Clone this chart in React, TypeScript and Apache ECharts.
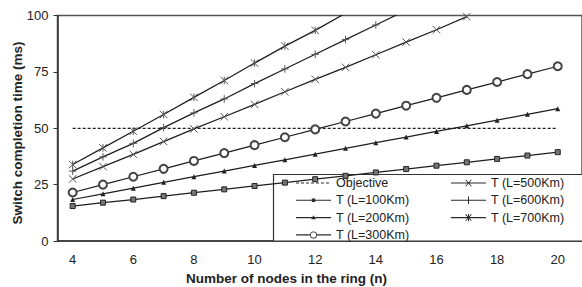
import React, { useEffect, useRef } from "react";
import * as echarts from "echarts";

const nodes = [4, 5, 6, 7, 8, 9, 10, 11, 12, 13, 14, 15, 16, 17, 18, 19, 20];
const objective = [50, 50, 50, 50, 50, 50, 50, 50, 50, 50, 50, 50, 50, 50, 50, 50, 50];
const t100 = [15.5, 17.0, 18.4, 19.9, 21.4, 22.9, 24.4, 25.9, 27.4, 28.9, 30.4, 31.9, 33.4, 34.9, 36.4, 37.9, 39.4];
const t200 = [18.4, 20.9, 23.4, 26.0, 28.5, 31.0, 33.5, 36.0, 38.5, 41.1, 43.6, 46.1, 48.6, 51.1, 53.6, 56.2, 58.7];
const t300 = [21.5, 25.0, 28.5, 32.0, 35.5, 39.0, 42.5, 46.0, 49.5, 53.0, 56.5, 60.0, 63.5, 67.0, 70.5, 74.0, 77.5];
const t500 = [27.5, 33.0, 38.4, 44.1, 49.7, 55.1, 60.6, 66.2, 71.7, 77.0, 82.6, 88.2, 93.7, 99.5, null, null, null];
const t600 = [31.0, 37.3, 43.3, 50.3, 56.8, 63.0, 69.8, 76.3, 82.8, 89.3, 95.8, 102.3, null, null, null, null, null];
const t700 = [33.9, 41.3, 48.7, 56.1, 63.7, 71.2, 78.9, 86.4, 93.4, 101.0, null, null, null, null, null, null, null];
const xTicks = [4, 6, 8, 10, 12, 14, 16, 18, 20];
const legendCol1 = ["Objective", "T (L=100Km)", "T (L=200Km)", "T (L=300Km)"];
const legendCol2 = ["T (L=500Km)", "T (L=600Km)", "T (L=700Km)"];

const pair = (ys: (number | null)[]) => nodes.map((n, i) => [n, ys[i]]);

const LINE = "#1e1e1e";
const FONT = "Liberation Sans, Arial, sans-serif";

// legend icon pieces (35 x 10 box)
const ANCHOR = "M0,0L0.01,0L0,0.01Z M35,10L34.99,10L35,9.99Z ";
const FULL_LINE = "M0,4.45H35V5.55H0Z ";
const ICONS: Record<string, string> = {
  Objective:
    "M0,4.45h3v1.1h-3Z M5,4.45h3v1.1h-3Z M10,4.45h3v1.1h-3Z M15,4.45h3v1.1h-3Z M20,4.45h3v1.1h-3Z M25,4.45h3v1.1h-3Z M30,4.45h3v1.1h-3Z ",
  "T (L=100Km)": FULL_LINE + "M15.8,3.3H19.2V6.7H15.8Z ",
  "T (L=200Km)": FULL_LINE + "M17.5,2.6L19.8,6.6H15.2Z ",
  "T (L=300Km)":
    "M0,4.45H14.1V5.55H0Z M20.9,4.45H35V5.55H20.9Z " +
    "M14,5A3.5,3.5 0 1,0 21,5A3.5,3.5 0 1,0 14,5Z M14.8,5A2.7,2.7 0 1,1 20.2,5A2.7,2.7 0 1,1 14.8,5Z ",
  "T (L=500Km)":
    FULL_LINE +
    "M14.3,2.1L14.9,1.5L20.7,7.9L20.1,8.5Z M20.1,1.5L20.7,2.1L14.9,8.5L14.3,7.9Z ",
  "T (L=600Km)": FULL_LINE + "M17,1.3H18V8.7H17Z ",
  "T (L=700Km)":
    FULL_LINE +
    "M14.3,2.1L14.9,1.5L20.7,7.9L20.1,8.5Z M20.1,1.5L20.7,2.1L14.9,8.5L14.3,7.9Z M17,1.3H18V8.7H17Z ",
};

export default function App() {
  const ref = useRef<HTMLDivElement>(null);
  useEffect(() => {
    if (!ref.current) return;
    const chart = echarts.init(ref.current, null, { renderer: "svg" });
    const base = (name: string, data: any, extra: any) => ({
      name,
      type: "line",
      data: pair(data),
      connectNulls: false,
      clip: true,
      lineStyle: { color: LINE, width: 1.25 },
      emphasis: { disabled: true },
      ...extra,
    });
    const pathMark = (d: string) => ({
      symbol: d,
      symbolSize: 7.5,
      itemStyle: { color: "transparent", borderColor: "#555", borderWidth: 1 },
    });
    const legendItems = (names: string[]) =>
      names.map((name) => ({
        name,
        icon: "path://" + ANCHOR + ICONS[name],
        itemStyle: { color: "#2a2a2a", borderWidth: 0 },
      }));
    const legendBase = {
      orient: "vertical",
      top: 176.5,
      padding: 0,
      itemWidth: 35,
      itemHeight: 10,
      itemGap: 4.3,
      selectedMode: false,
      symbolKeepAspect: false,
      textStyle: { color: "#222", fontSize: 12.5, fontFamily: FONT, lineHeight: 12.5 },
    };
    chart.setOption({
      animation: false,
      backgroundColor: "#fff",
      textStyle: { fontFamily: FONT },
      grid: {
        left: 57.5,
        top: 15.5,
        width: 538.5,
        height: 225.5,
        show: true,
        borderColor: "#555",
        borderWidth: 1.5,
      },
      xAxis: {
        type: "value",
        min: 3.5,
        max: 20.8,
        axisLine: { show: true, lineStyle: { color: "#333", width: 1.5 } },
        axisTick: { show: false },
        splitLine: { show: false },
        axisLabel: {
          customValues: xTicks,
          color: "#222",
          fontSize: 13,
          fontFamily: FONT,
          margin: 12,
        },
      },
      yAxis: {
        type: "value",
        min: 0,
        max: 100,
        interval: 25,
        axisLine: { show: true, lineStyle: { color: "#333", width: 1.5 } },
        axisTick: { show: true, length: 4, lineStyle: { color: "#333" } },
        splitLine: { show: false },
        axisLabel: { color: "#222", fontSize: 13, fontFamily: FONT, margin: 9 },
      },
      legend: [
        { ...legendBase, data: legendItems(legendCol1), left: 296 },
        { ...legendBase, data: legendItems(legendCol2), left: 451 },
      ],
      graphic: [
        {
          type: "rect",
          z: 3,
          shape: { x: 273.5, y: 174.5, width: 330, height: 66.5 },
          style: { fill: "#fff", stroke: "#333", lineWidth: 1.2 },
        },
        {
          type: "text",
          x: 286.5,
          y: 278,
          style: {
            text: "Number of nodes in the ring (n)",
            fontFamily: FONT,
            fontWeight: "bold",
            fontSize: 13.5,
            fill: "#222",
            align: "center",
            verticalAlign: "middle",
          },
        },
        {
          type: "text",
          x: 17,
          y: 133,
          rotation: Math.PI / 2,
          style: {
            text: "Switch completion time (ms)",
            fontFamily: FONT,
            fontWeight: "bold",
            fontSize: 13.5,
            fill: "#222",
            align: "center",
            verticalAlign: "middle",
          },
        },
      ],
      series: [
        base("Objective", objective, {
          symbol: "circle",
          symbolSize: 0,
          showSymbol: false,
          itemStyle: { color: "transparent", borderWidth: 0 },
          lineStyle: { color: LINE, width: 1.25, type: [3, 2] },
        }),
        base("T (L=100Km)", t100, {
          symbol: "rect",
          symbolSize: 5,
          itemStyle: { color: "#777", borderColor: "#222", borderWidth: 1 },
        }),
        base("T (L=200Km)", t200, {
          symbol: "triangle",
          symbolSize: 5,
          itemStyle: { color: "#222" },
        }),
        base("T (L=300Km)", t300, {
          symbol: "emptyCircle",
          symbolSize: 8,
          itemStyle: { color: "#444", borderWidth: 1 },
        }),
        base("T (L=500Km)", t500, pathMark("path://M0,0L10,10M10,0L0,10")),
        base("T (L=600Km)", t600, pathMark("path://M5,0L5,10M0,5L10,5")),
        base("T (L=700Km)", t700, pathMark("path://M0,0L10,10M10,0L0,10M5,0L5,10")),
      ],
    });
    return () => chart.dispose();
  }, []);
  return (
    <div
      ref={ref}
      style={{ position: "fixed", left: 0, top: 0, width: 582, height: 287 }}
    />
  );
}
